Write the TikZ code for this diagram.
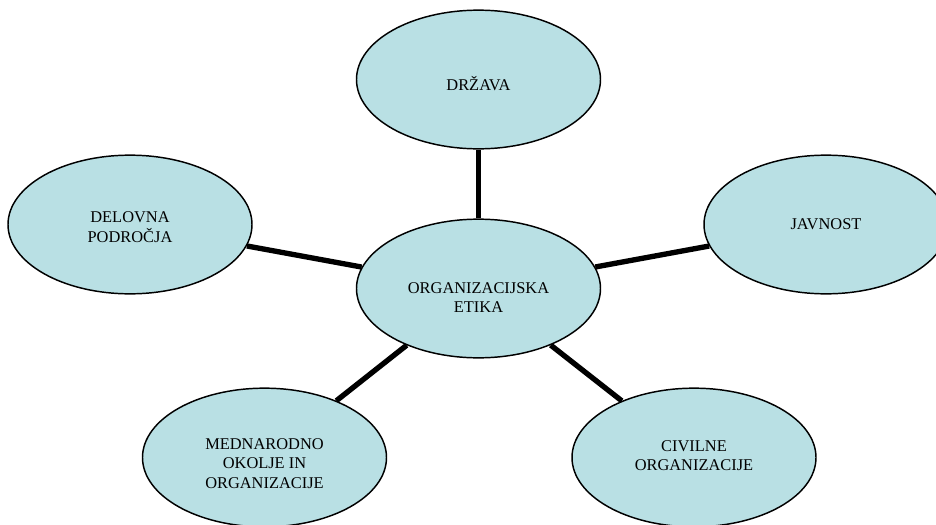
\documentclass[tikz,border=0pt]{standalone}
\usepackage{fontspec}
\setmainfont{Liberation Serif}
\usepackage{tikz}
\usetikzlibrary{shapes.geometric}
\definecolor{ovalfill}{RGB}{185,224,228}

\begin{document}
\begin{tikzpicture}[
  x=0.75pt, y=-0.75pt,
  oval/.style={ellipse, draw, line width=1.1pt, fill=ovalfill,
    minimum width=183pt, minimum height=104pt, inner sep=0pt,
    align=center, font=\fontsize{12.3}{14.8}\selectfont},
  link/.style={line width=4pt},
]
\useasboundingbox (0,0) rectangle (936,525);
\node[oval, text height=36.4pt] (etika) at (478.5,288.5) {ORGANIZACIJSKA\\ETIKA};
\node[oval, text height=16.8pt] (drzava) at (478.5,79.5) {DRŽAVA};
\node[oval, text height=27.4pt] (delovna) at (130,224.5) {DELOVNA\\PODROČJA};
\node[oval] (javnost) at (826,224.5) {JAVNOST};
\node[oval, text height=46.7pt] (mednarodno) at (264.5,457.5) {MEDNARODNO\\OKOLJE IN\\ORGANIZACIJE};
\node[oval, text depth=3pt] (civilne) at (694,457.5) {CIVILNE\\ORGANIZACIJE};
\draw[link] (etika) -- (drzava);
\draw[link] (etika) -- (delovna);
\draw[link] (etika) -- (javnost);
\draw[link] (etika) -- (mednarodno);
\draw[link] (etika) -- (civilne);
\end{tikzpicture}
\end{document}
